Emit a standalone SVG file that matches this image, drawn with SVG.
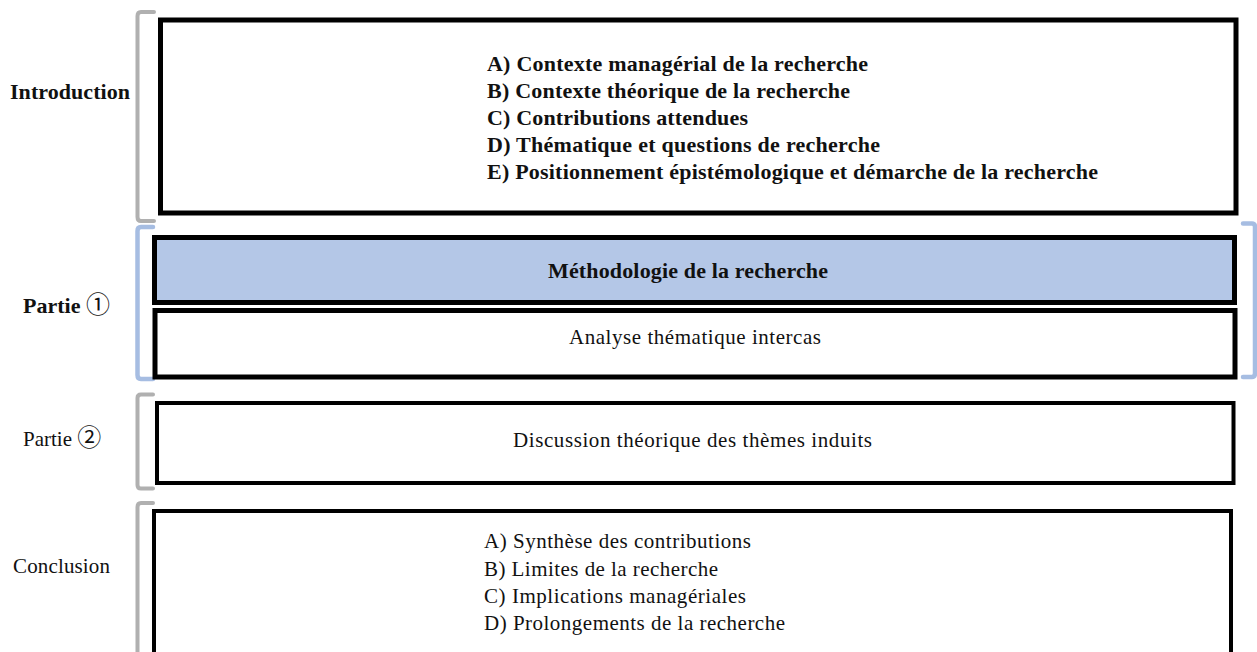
<svg xmlns="http://www.w3.org/2000/svg" width="1257" height="652" viewBox="0 0 1257 652">
<style>
.box{fill:#ffffff;stroke:#000000}
.blue{fill:#b4c7e7;stroke:#000000}
.br{fill:none;stroke:#b0b0b0;stroke-width:4;stroke-linecap:round;stroke-linejoin:round}
.bb{fill:none;stroke:#a6bde2;stroke-width:4.5;stroke-linecap:round;stroke-linejoin:round}
text{font-family:"Liberation Serif","Times New Roman",serif;font-size:21px;fill:#111111}
.b{font-weight:bold;font-size:22px}
.cj{font-family:"Noto Sans CJK JP","DejaVu Sans",sans-serif;font-weight:normal}
</style>
<rect width="1257" height="652" fill="#ffffff"/>
<g id="brackets">
<path class="br" d="M154,12 H141 Q137.5,12 137.5,16 V217 Q137.5,221 141,221 H154"/>
<path class="bb" d="M153,227 H141 Q137.5,227 137.5,231 V375 Q137.5,379 141,379 H153"/>
<path class="bb" d="M1243,223.5 H1252 Q1255,223.5 1255,227 V373 Q1255,377 1252,377 H1243"/>
<path class="br" d="M153,394.5 H141 Q137.5,394.5 137.5,398 V485 Q137.5,488.5 141,488.5 H153"/>
<path class="br" d="M153,503 H141 Q137.5,503 137.5,507 V660"/>
</g>
<g id="labels">
<text class="b" x="10" y="99" textLength="120" lengthAdjust="spacing">Introduction</text>
<text class="b" x="23" y="313">Partie <tspan class="cj" font-size="24">①</tspan></text>
<text x="23" y="446">Partie <tspan class="cj" font-size="24">②</tspan></text>
<text x="13" y="573" textLength="97" lengthAdjust="spacing">Conclusion</text>
</g>
<g id="intro">
<rect class="box" x="160.5" y="20" width="1075.5" height="193" stroke-width="5"/>
<text class="b" x="487" y="71" textLength="381" lengthAdjust="spacing">A) Contexte managérial de la recherche</text>
<text class="b" x="487" y="98" textLength="363" lengthAdjust="spacing">B) Contexte théorique de la recherche</text>
<text class="b" x="487" y="125" textLength="261" lengthAdjust="spacing">C) Contributions attendues</text>
<text class="b" x="487" y="152" textLength="393" lengthAdjust="spacing">D) Thématique et questions de recherche</text>
<text class="b" x="487" y="179" textLength="611" lengthAdjust="spacing">E) Positionnement épistémologique et démarche de la recherche</text>
</g>
<g id="methodologie">
<rect class="blue" x="154.5" y="237.5" width="1080" height="65" stroke-width="5"/>
<text class="b" x="548" y="278" textLength="280" lengthAdjust="spacing">Méthodologie de la recherche</text>
</g>
<g id="analyse">
<rect class="box" x="155" y="310.5" width="1080" height="66.5" stroke-width="5"/>
<text x="569" y="344" textLength="252" lengthAdjust="spacing">Analyse thématique intercas</text>
</g>
<g id="discussion">
<rect class="box" x="157" y="403" width="1076.5" height="80" stroke-width="4"/>
<text x="513" y="447" textLength="359" lengthAdjust="spacing">Discussion théorique des thèmes induits</text>
</g>
<g id="conclusion">
<rect class="box" x="154" y="511" width="1077" height="160" stroke-width="4"/>
<text x="484" y="548" textLength="267" lengthAdjust="spacing">A) Synthèse des contributions</text>
<text x="484" y="576" textLength="234" lengthAdjust="spacing">B) Limites de la recherche</text>
<text x="484" y="603" textLength="262" lengthAdjust="spacing">C) Implications managériales</text>
<text x="484" y="630" textLength="301" lengthAdjust="spacing">D) Prolongements de la recherche</text>
</g>
</svg>
